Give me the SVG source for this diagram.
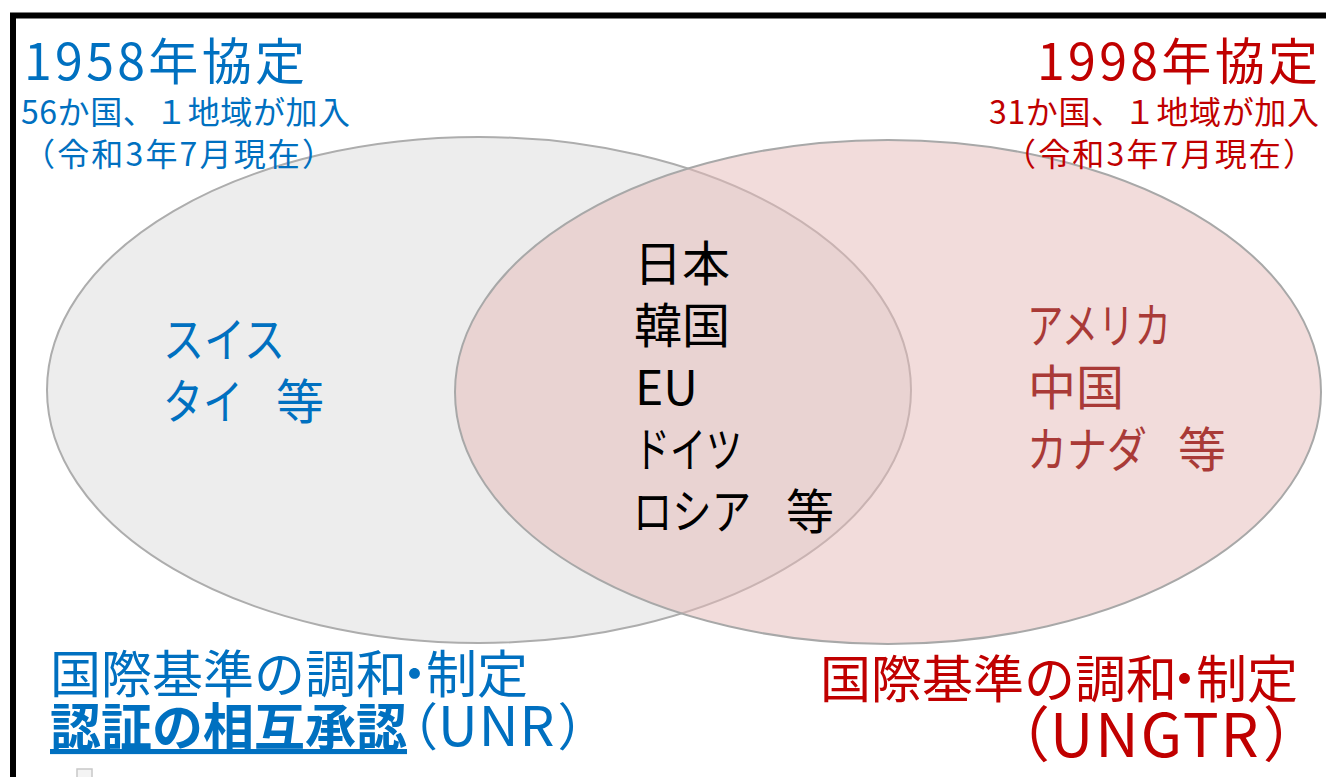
<svg xmlns="http://www.w3.org/2000/svg" width="1326" height="777" viewBox="0 0 1326 777">
<style>
  text { font-family: "Noto Sans CJK JP", "Noto Sans", sans-serif; }
  .blue { fill: #0070C0; }
  .red { fill: #C00000; }
  .dred { fill: #A93A37; }
  .black { fill: #000000; }
  .big { font-size: 50px; }
  .low { font-size: 51px; }
  .sub { font-size: 32px; }
  .mid { font-size: 48px; }
</style>
<rect x="0" y="0" width="1326" height="777" fill="#ffffff"/>
<path d="M13,777 V15.5 H1326" fill="none" stroke="#000000" stroke-width="6"/>
<g id="ellipse-1958">
  <ellipse cx="479" cy="390" rx="432" ry="253" fill="#EDEDED" stroke="#ADADAD" stroke-width="2"/>
</g>
<g id="ellipse-1998">
  <ellipse cx="888" cy="392" rx="433" ry="252" fill="#E6B9B8" fill-opacity="0.5" stroke="#A8A8A8" stroke-width="2"/>
</g>
<g id="title-1958">
  <text class="blue big" x="24" y="80" textLength="281" lengthAdjust="spacing">1958年協定</text>
  <text class="blue sub" x="21" y="124" textLength="329" lengthAdjust="spacing">56か国、１地域が加入</text>
  <text class="blue sub" x="23" y="166" textLength="311" lengthAdjust="spacing">（令和3年7月現在）</text>
</g>
<g id="title-1998">
  <text class="red big" x="1037" y="80" textLength="281" lengthAdjust="spacing">1998年協定</text>
  <text class="red sub" x="989" y="124" textLength="330" lengthAdjust="spacing">31か国、１地域が加入</text>
  <text class="red sub" x="1004" y="166" textLength="311" lengthAdjust="spacing">（令和3年7月現在）</text>
</g>
<g id="members-1958">
  <text class="blue mid" x="163" y="357" textLength="122" lengthAdjust="spacingAndGlyphs">スイス</text>
  <text class="blue mid" x="163" y="419"><tspan textLength="80" lengthAdjust="spacingAndGlyphs">タイ</tspan><tspan x="276">等</tspan></text>
</g>
<g id="members-both">
  <text class="black mid" x="634" y="281">日本</text>
  <text class="black mid" x="634" y="343">韓国</text>
  <text class="black mid" x="635" y="405">EU</text>
  <text class="black mid" x="634" y="467" textLength="108" lengthAdjust="spacingAndGlyphs">ドイツ</text>
  <text class="black mid" x="633" y="529"><tspan textLength="118" lengthAdjust="spacingAndGlyphs">ロシア</tspan><tspan x="786">等</tspan></text>
</g>
<g id="members-1998">
  <text class="dred mid" x="1027" y="343" textLength="144" lengthAdjust="spacingAndGlyphs">アメリカ</text>
  <text class="dred mid" x="1028" y="405">中国</text>
  <text class="dred mid" x="1027" y="467"><tspan textLength="120" lengthAdjust="spacingAndGlyphs">カナダ</tspan><tspan x="1178">等</tspan></text>
</g>
<g id="label-1958">
  <text class="blue low" x="50" y="693">国際基準の調和<tspan dx="-18">・</tspan><tspan dx="-14">制定</tspan></text>
  <text class="blue low" x="50" y="746"><tspan font-weight="bold" text-decoration="underline">認証の相互承認</tspan><tspan dx="-20">（</tspan><tspan font-size="55" letter-spacing="1">UNR</tspan><tspan dx="2">）</tspan></text>
</g>
<g id="label-1998">
  <text class="red low" x="820" y="698">国際基準の調和<tspan dx="-18">・</tspan><tspan dx="-14">制定</tspan></text>
  <text class="red" font-size="60" x="990" y="757">（<tspan letter-spacing="2">UNGTR</tspan><tspan dx="2">）</tspan></text>
</g>
<rect x="77" y="769" width="15" height="15" fill="#F4F4F4" stroke="#C8C8C8" stroke-width="1.5"/>
</svg>
